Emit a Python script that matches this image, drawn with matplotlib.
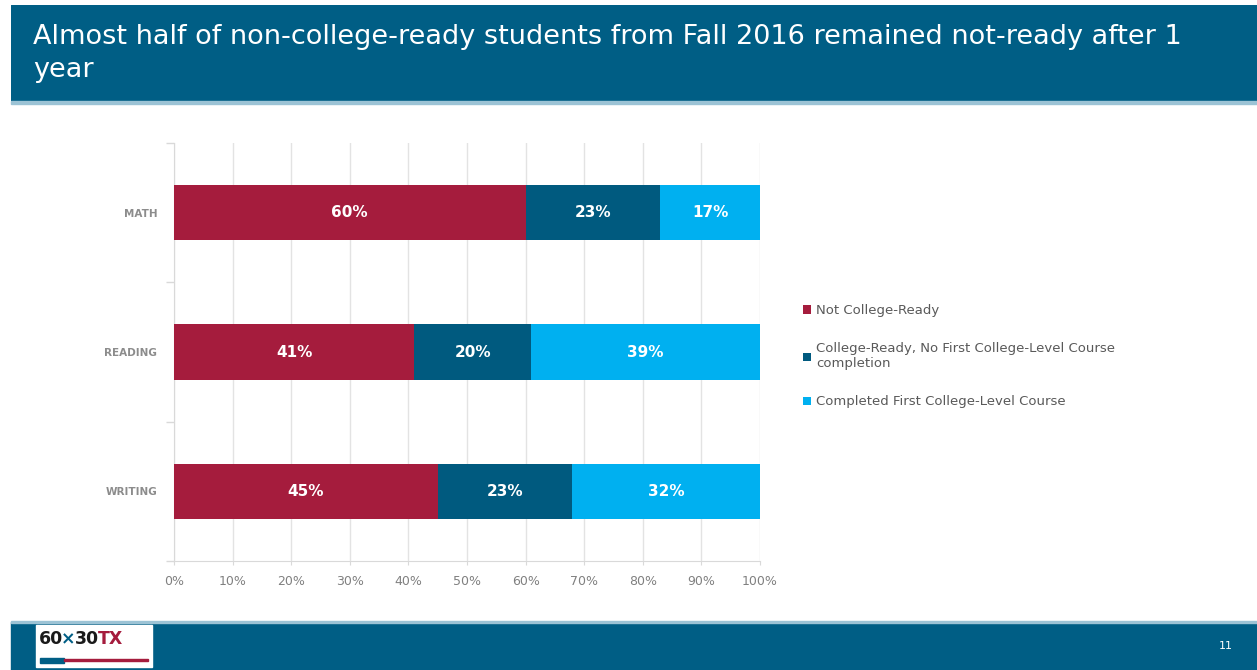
import matplotlib
matplotlib.use("Agg")
import matplotlib.pyplot as plt
from matplotlib.patches import Rectangle
import numpy as np

# Outcome shares (%) one year after Fall 2016, per subject
subjects = ["MATH", "READING", "WRITING"]
not_ready = [60, 41, 45]
ready_no_course = [23, 20, 23]
completed_course = [17, 39, 32]

series_labels = [
    "Not College-Ready",
    "College-Ready, No First College-Level Course\ncompletion",
    "Completed First College-Level Course",
]
series_colors = ["#A51C3D", "#005A7F", "#00B0F0"]
x_ticks = list(range(0, 101, 10))

title_text = ("Almost half of non-college-ready students from Fall 2016 remained not-ready after 1\n"
              "year")
page_number = "11"

BAND = "#005E85"
W, H = 1257, 670
fig = plt.figure(figsize=(W / 100, H / 100), dpi=100)
fig.patch.set_facecolor("white")


def px(x, y, w, h):
    """Convert a pixel box (top-left origin) into figure fractions."""
    return [x / W, 1 - (y + h) / H, w / W, h / H]


# Header band with title
hdr = fig.add_axes(px(11, 5, W - 11, 96))
hdr.set_axis_off()
hdr.add_patch(Rectangle((0, 0), 1, 1, color=BAND, transform=hdr.transAxes))
fig.add_artist(Rectangle((11 / W, 1 - 104 / H), (W - 11) / W, 3 / H,
                         color="#9CC3D5", transform=fig.transFigure))
fig.text(33 / W, 1 - 24 / H, title_text, color="white", fontsize=19.5,
         va="top", ha="left", linespacing=1.35, family="DejaVu Sans")

# Footer band with logo and page number
fig.add_artist(Rectangle((11 / W, 0), (W - 11) / W, 48 / H,
                         color=BAND, transform=fig.transFigure))
fig.add_artist(Rectangle((11 / W, 47 / H), (W - 11) / W, 2 / H,
                         color="#9CC3D5", transform=fig.transFigure))
fig.add_artist(Rectangle((36 / W, 3 / H), 116 / W, 42 / H,
                         color="white", transform=fig.transFigure))
logo_y = 1 - 639 / H
logo_parts = [("60", "#1A1A1A", 39), ("×", "#005E85", 61), ("30", "#1A1A1A", 75),
              ("TX", "#A51C3D", 98)]
for txt, col, x0 in logo_parts:
    fig.text(x0 / W, logo_y, txt, color=col, fontsize=12.5, fontweight="bold",
             va="center", ha="left", family="DejaVu Sans Condensed")
fig.add_artist(Rectangle((40 / W, 1 - 663 / H), 24 / W, 5 / H,
                         color="#005E85", transform=fig.transFigure))
fig.add_artist(Rectangle((64 / W, 1 - 661 / H), 84 / W, 2.5 / H,
                         color="#A51C3D", transform=fig.transFigure))
fig.text(1226 / W, 1 - 646 / H, page_number, color="white", fontsize=8,
         va="center", ha="center")

# Stacked horizontal bar chart
ax = fig.add_axes(px(174, 143, 586, 418))
ypos = np.arange(len(subjects))
series = [not_ready, ready_no_course, completed_course]
left = np.zeros(len(subjects))
handles = []
for vals, col, lab in zip(series, series_colors, series_labels):
    vals = np.array(vals, dtype=float)
    bars = ax.barh(ypos, vals, left=left, height=0.395, color=col,
                   label=lab, zorder=3)
    handles.append(bars)
    for yi, (l, v) in enumerate(zip(left, vals)):
        ax.text(l + v / 2, yi, f"{int(v)}%", color="white", fontsize=11,
                fontweight="bold", ha="center", va="center", zorder=4)
    left += vals

ax.set_xlim(0, 100)
ax.set_ylim(2.5, -0.5)
ax.set_xticks(x_ticks)
ax.set_xticklabels([f"{t}%" for t in x_ticks], color="#808080", fontsize=9,
                   family="DejaVu Sans Condensed")
ax.set_yticks(ypos)
ax.set_yticklabels(subjects, color="#8C8C8C", fontsize=7.5, fontweight="bold")
ax.set_yticks([-0.5, 0.5, 1.5, 2.5], minor=True)
ax.tick_params(axis="y", which="major", length=0, pad=12)
ax.tick_params(axis="y", which="minor", length=6, color="#D9D9D9", width=1)
ax.tick_params(axis="x", which="major", length=3, color="#D9D9D9", pad=7,
               direction="out")
ax.grid(axis="x", color="#E3E3E3", linewidth=1, zorder=0)
for side in ("top", "right"):
    ax.spines[side].set_visible(False)
for side in ("left", "bottom"):
    ax.spines[side].set_color("#D9D9D9")

leg = ax.legend(handles=handles, labels=series_labels, loc="upper left",
                bbox_to_anchor=((798 - 174) / 586, (561 - 299) / 418),
                frameon=False, handlelength=0.6,
                handleheight=0.6, handletextpad=0.4, labelspacing=1.9,
                borderaxespad=0, prop={"family": "DejaVu Sans Condensed", "size": 9.5})
for t in leg.get_texts():
    t.set_color("#595959")

fig.savefig("out.png", dpi=100, facecolor="white")
